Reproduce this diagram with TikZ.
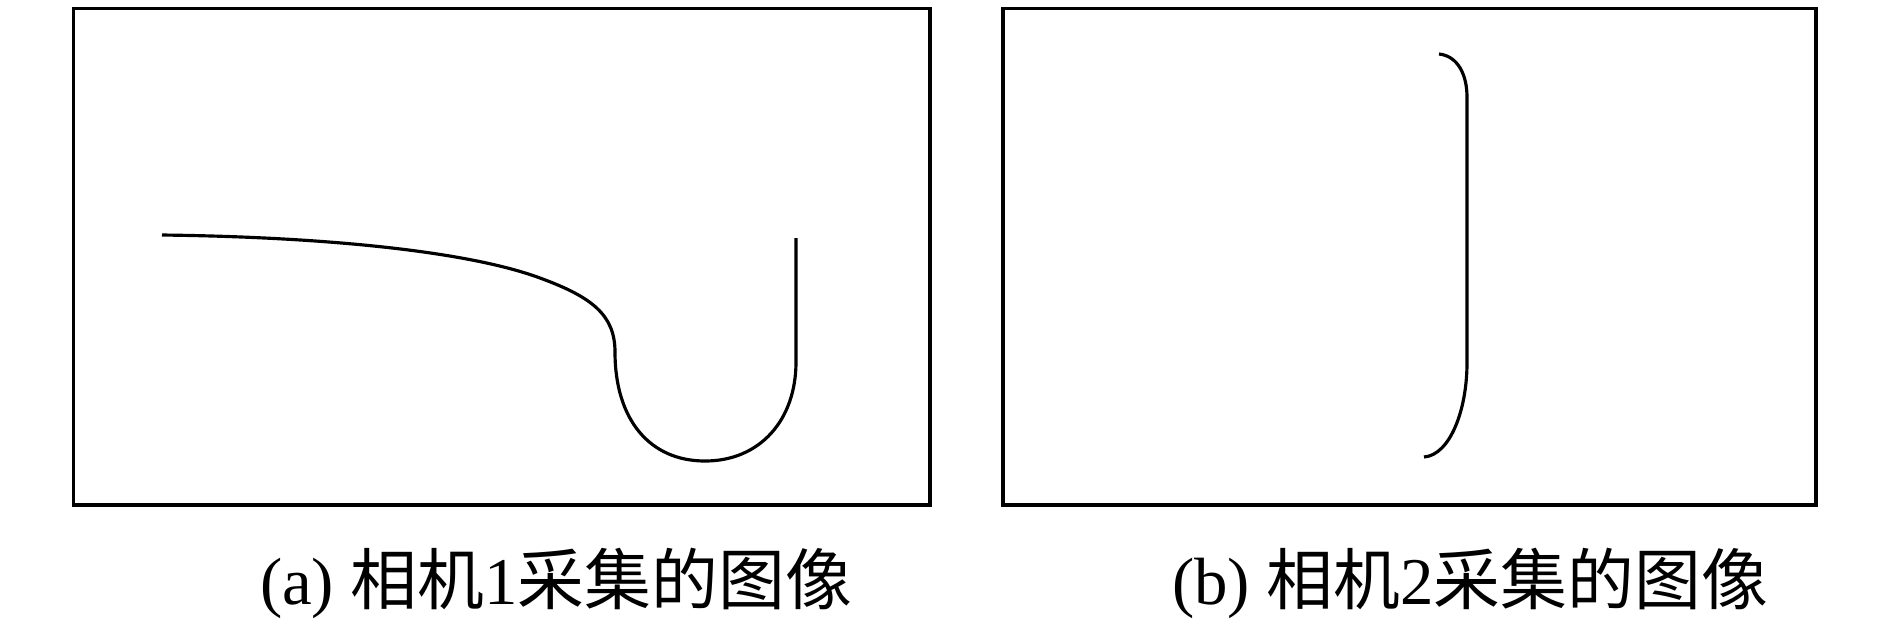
\documentclass[tikz,border=0pt]{standalone}
\usepackage{fontspec}
\setmainfont{Liberation Serif}
\newfontfamily\cjk{Noto Sans CJK SC}

\begin{document}
\begin{tikzpicture}[x=0.01cm,y=-0.01cm,line width=0.9pt]
    \useasboundingbox (0,0) rectangle (1890,638);
    % camera 1
    \draw (73.5,8.5) rectangle (930,505);
    \draw (162,235) .. controls (330,237) and (470,252) .. (540,278)
          .. controls (592,297) and (615,315) .. (615,352)
          .. controls (615,420) and (650,461) .. (705,461)
          .. controls (760,461) and (796,420) .. (796,362) -- (796,238);
    \node (capa) at (556,604) [anchor=base]{\fontsize{19}{23}\selectfont (a) {\cjk 相机}1{\cjk 采集的图像}};
    % camera 2
    \draw (1003,8.5) rectangle (1816,505);
    \draw (1439,54) .. controls (1458,56) and (1467,75) .. (1467,97) -- (1467,363)
          .. controls (1467,410) and (1450,455) .. (1424,457);
    \node (capb) at (1470,604) [anchor=base]{\fontsize{19}{23}\selectfont (b) {\cjk 相机}2{\cjk 采集的图像}};
\end{tikzpicture}
\end{document}
